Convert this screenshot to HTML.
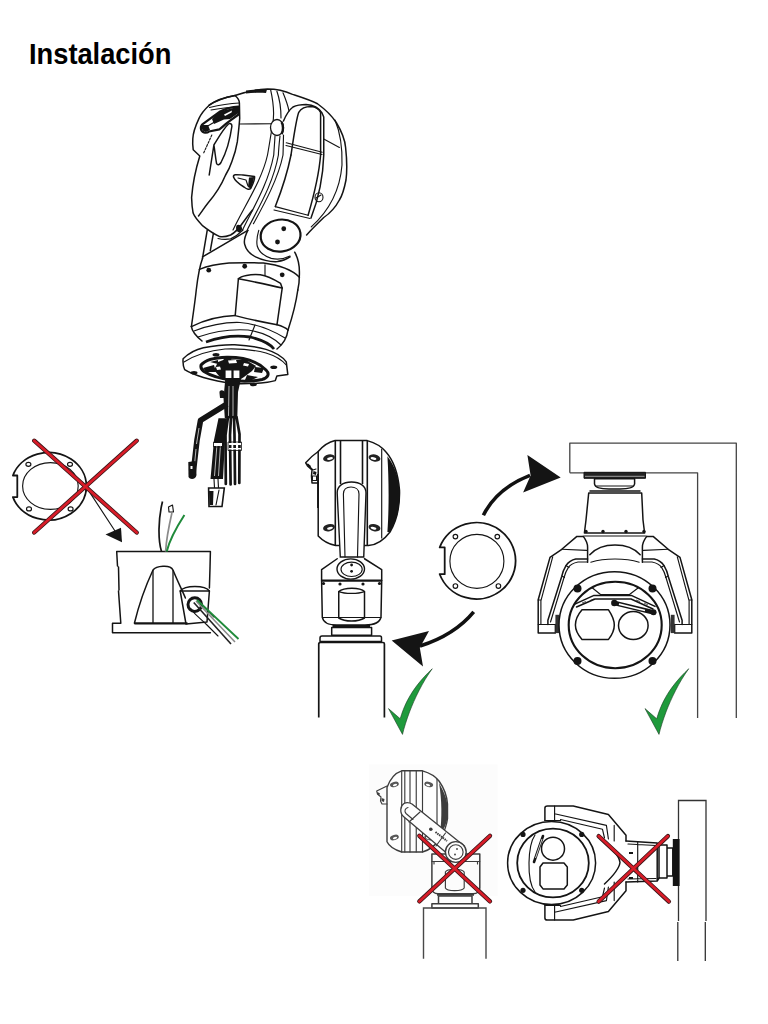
<!DOCTYPE html>
<html><head><meta charset="utf-8">
<style>
html,body{margin:0;padding:0;background:#fff;width:768px;height:1024px;overflow:hidden;}
h1{position:absolute;left:29px;top:39px;margin:0;font:bold 29px "Liberation Sans",sans-serif;color:#000;line-height:30px;transform:scaleX(0.94);transform-origin:0 0;white-space:nowrap;}
svg{position:absolute;left:0;top:0;}
.k{fill:none;stroke:#141414;stroke-width:1.5;stroke-linecap:round;stroke-linejoin:round;}
.t{fill:none;stroke:#141414;stroke-width:1.15;stroke-linecap:round;stroke-linejoin:round;}
.b{fill:#141414;stroke:none;}
.r{fill:none;stroke:#d81c28;stroke-width:2.7;stroke-linecap:round;}
.rd{fill:none;stroke:#3a1618;stroke-width:4.3;stroke-linecap:round;}
.g{fill:#1f9a3c;stroke:#1a3a22;stroke-width:0.6;}
.gr{fill:none;stroke:#3a3a3a;stroke-width:1.1;stroke-linecap:round;stroke-linejoin:round;}
</style></head><body>
<h1>Instalación</h1>
<svg width="768" height="1024" viewBox="0 0 768 1024">
<!-- TOPCAM -->
<g id="topcam">
  <!-- dome outer -->
  <path class="k" d="M209.2,105.2 C216,100 226,97 235,95.5 C246,91.5 257,89.5 267.5,89 C278,89 286,91.5 292.5,94.4 C302,97.5 310,100 317.5,103.75 C326,110 332,116 336.25,122.5 C342,132 345,140 345.6,147.5 C347,160 347,172 346,180 C344,190 342,196 339.4,200 C334,210 329,214 323.75,217.5 C316,225 311,230 306.6,235"/>
  <path class="b" d="M246,90.5 C252,89.5 260,89 267,89.5 L266,93 C258,92.5 252,93 246,93.6 Z"/>
  <!-- face plate outer -->
  <path class="k" d="M235,95.5 C225,97.5 216,100.5 209.2,105.2 C204,110 201,114 199,118.4 C195,127 193,134 192.8,138.75 C192.5,143 192.8,147 193.2,149.7 L199.8,156 C197,165 193,180 191.6,197.5 C191.8,205 192.5,210 193.1,213.1 C195,218 199,222 202.5,225.6 C208,230 214,234 219.7,236.6 C224,237.5 228,236 230.6,235 C236,232 240,227 243,222.5 C247,217 250,213 252.5,210"/>
  <path class="t" d="M218,238.5 C222,239.5 227,239.5 230.6,238.9 C235,237 239,234 243,230"/>
  <!-- face plate inner ellipse (right boundary) -->
  <path class="k" d="M235,95.5 C238,98 239.4,100 239.4,103 L239.7,118.4 C239,128 238,136 237.3,141.9 C236,150 234,156 231.9,161.4 C230,167 228,171 225.6,175 C221,186 214,196 208,203 C204,208 201,213 198.5,216"/>
  <!-- top double band of face plate -->
  <path class="t" d="M209.5,107.5 C220,105 230,103.5 239.4,103"/>
  <path class="t" d="M211,110 C222,108 231,107 239.4,107"/>
  <!-- sunshield slot -->
  <path fill="none" stroke="#141414" stroke-width="2.2" stroke-linejoin="round" d="M203,123.9 C200,126 200,131 204,132.5 C206,133 208,132.5 209,131.5 L219.4,129.4 C224,126 226,123.5 228.75,121.6 L238.5,114.5 L238.5,106.7 C232,107 226,108.5 220.2,111.4 Z"/>
  <path fill="#141414" d="M202,125 C201,129 203,132 206,132 L210,130 L208,125 Z"/>
  <path fill="#141414" d="M216,114 L221,111 L238.5,106.7 L238.5,113 L230,119 L224,119.5 L214,124 L212,119 Z"/>
  <path fill="#fff" d="M224,114.5 L232,110.5 L231.5,112.5 L225,116 Z"/>
  <path class="t" d="M206,127 L218,120"/>
  <!-- tongue / W -->
  <path class="k" d="M209.2,175 L213.9,145 C215,152 215.8,160 216.6,163.5 C217.5,165.5 219.5,165 221,162.5 C226,153 230,140 231.9,126.25 C232,123.5 230,123 228.5,124 C224,128 220,135 213.9,145"/>
  <path class="t" d="M203.75,152.8 L212.3,134" stroke-dasharray="2 1.5"/>
  <!-- mount tab -->
  <path class="k" d="M233.5,177 C233,174 236,174.5 243,175 L254.5,176.5 C255,179 253,184 251,188 C249.5,190 247,189.5 244,187 C239,184 235,181 233.5,177 Z"/>
  <path class="b" d="M249,177.5 L254,177 C254,181 252,186 250.5,188.5 L248,187 Z"/>
  <path class="t" d="M238,178 L246,180 L248,186"/>
  <!-- horizontal line across top panel -->
  <path class="t" d="M239.5,124 L272.2,123.75"/>
  <!-- band strips -->
  <path class="t" d="M270.6,89.7 C274,105 274,118 272.5,125 C270,140 268.5,150 267.5,155 C262,180 245,205 233,230"/>
  <path class="t" d="M276.9,91.25 C280,100 281,110 281,118 M275,136 C274.5,145 274,150 273.75,155 C268,185 252,210 242.5,230"/>
  <path class="t" d="M283,92.8 C286,100 288,106 289,111 M280,136 C279,145 278.5,150 278.4,155 C273,185 257,210 247.2,230"/>
  <path class="t" d="M283.5,135 C283.3,145 283.2,150 283,155 C278,180 262,208 253.4,223.75"/>
  <!-- knob semi -->
  <ellipse cx="277" cy="127.5" rx="6.5" ry="8" fill="#fff" stroke="#141414" stroke-width="1.3"/>
  <path fill="none" stroke="#141414" stroke-width="2.4" d="M281.5,122 C283.5,125 283.5,131 281.5,134"/>
  <!-- arm -->
  <path class="k" d="M283.5,121 C286,115 289,110 293,107 C297,105 302,104.5 306,104.5 C314,105 319,108 322,113 L323.75,117 L323.75,155 C323,180 318,200 311,218"/>
  <path class="k" d="M291,155 C294,135 296,120 298.75,112.3 C301,108.5 306,106.5 311.25,106.5 C316,107 319,109 320.6,112.3 L320.6,155 C319,175 314,195 308.1,215.2"/>
  <path class="k" d="M291,155 C287,175 281,192 275.3,206.6"/>
  <!-- cross band -->
  <path class="t" d="M286.25,142.8 L322.2,152.2 M286,145.5 L322,154.5"/>
  <path class="t" d="M323.75,138.9 L339.4,147.5"/>
  <!-- dome inner line -->
  <path class="t" d="M335,120 C340,132 342.5,148 342,165 C340,190 330,210 311.25,226.9"/>
  <!-- screw oval -->
  <ellipse cx="319" cy="197.2" rx="4" ry="4.5" fill="none" stroke="#141414" stroke-width="1.1"/>
  <path class="t" d="M316,198 L321,195"/>
  <!-- arm bottom band -->
  <path class="t" d="M275.3,206.6 L308.1,215.2 M274,210 L310,218.5"/>
  <!-- neck bolt -->
  <path class="b" d="M236.5,225.5 C238,224 241.5,225 242,228 C242.5,231 240,233 238,232 C236,231 235.5,228 236.5,225.5 Z"/>
  <!-- knob -->
  <ellipse cx="280.6" cy="235.6" rx="20" ry="16" fill="none" stroke="#141414" stroke-width="2.2" transform="rotate(-8 280.6 235.6)"/>
  <circle class="b" cx="283.75" cy="228.75" r="2.4"/><circle class="b" cx="277.5" cy="242" r="2.4"/>
  <path class="k" d="M247.8,230.3 C245,236 244,242 244.7,244.4 C246,250 250,254 255.6,256.9 C262,260 270,262 277.5,261.6 C283,261 287,259 290,256.9"/>
  <path class="t" d="M258.75,230.3 C257,236 256.5,242 257.2,246 C259,252 264,256 271.25,258.4 C278,260 284,259 290,256"/>
  <!-- neck -->
  <path class="k" d="M207.2,230.3 L202.5,258.4 M213.4,233.4 L210.3,250.6"/>
  <path class="k" d="M202.5,256.9 L247.8,230.3"/>
  <path class="k" d="M294.7,252.2 C298,258 299.5,265 299.4,272.5 C299.5,280 299,285 297.8,290"/>
  <!-- body -->
  <path class="k" d="M202.5,258.4 C200,265 198,275 196.25,290 C195,302 193,315 191.4,326.6"/>
  <path class="k" d="M297.8,290 C296,303 292,318 288,330"/>
  <path class="k" d="M199.4,269.4 C208,266 218,264 229,263.1 C240,262.5 252,262.5 263.4,263.1 C278,265 292,270 299.4,277.2"/>
  <circle class="b" cx="208.75" cy="270.2" r="2.4"/><circle class="b" cx="244.7" cy="266.25" r="2.4"/><circle class="b" cx="282.2" cy="274.8" r="2.4"/>
  <path class="t" d="M265,264.7 L265,275.6"/>
  <!-- window -->
  <path class="k" d="M238.4,278.75 C241,276 250,274 260.3,274.8 C268,276 275,280 280.6,283.4 L282.2,288.1 L277,324.7 C262,322 248,319 235.2,315.6 Z"/>
  <path class="k" d="M238.4,278.75 C255,282 270,285 282.2,288.1"/>
  <!-- body bottom -->
  <path class="k" d="M191.4,326.6 C205,320 220,316 235.2,315.6 M277,324.7 C282,326 286,328 288,330"/>
  <path class="k" d="M191.4,326.6 C192,331 196,336 202,341 M288,330 C287,338 282,345 277,349"/>
  <path class="t" d="M194,331 C210,325 225,322 240,322.5 C258,324 272,330 285,338"/>
  <path class="t" d="M198,337 C215,331 232,329 248,330 C262,332 274,338 281,345"/>
  <path class="t" d="M255,325 L249,340"/>
  <path d="M206,342 C220,337 236,335 250,337 C262,340 270,344 274,349" fill="none" stroke="#141414" stroke-width="2.8"/>
  <!-- flange -->
  <path class="k" d="M183.1,358.75 C190,352 198,349 203.4,347.8 C215,345.5 225,344.5 234.7,344.7 C248,345.5 258,347 266,349.4 C276,352.5 282,356 286.25,361.9 L287.8,374.4 L276.9,376 L275.3,380.6 C272,381.5 270,382 267.5,382.2 C258,383.5 246,384 234.7,383.75 C222,382 212,380 203.4,377.5 C195,375 189,372.5 184.7,369.7 C183,366 182.8,362 183.1,358.75 Z"/>
  <path class="t" d="M184,362 C195,355 210,350.5 225,349 C240,348.5 255,350 266,353 C276,356 282,360 286.25,365"/>
  <path d="M201.1,365 C205,360 215,357.5 226.9,357.2 C245,357 258,362 266,370 C270,374 268,378 262,379.5 C252,381.5 242,381.5 234.7,380.6 C222,379 210,375.5 204,371.5 C201.5,369.5 200.5,367 201.1,365 Z" fill="#fff" stroke="#141414" stroke-width="3"/>
  <path fill="#141414" d="M218,362 L226,359 L246,360 L256,366 L252,371 L244,377 L238,381 L226,381 L219,376 L214,370 Z"/>
  <path fill="#141414" d="M203,368 L214,365 L216,372 L206,372 Z M255,367 L264,368 L262,373 L254,372 Z M224,358 L232,357.5 L230,362 L223,362 Z M210,362 L218,360 L218,364 Z M247,375 L258,377 L252,380 L245,380 Z"/>
  <path fill="#fff" d="M228,360.5 L236,360 L237,363 L229,363.5 Z M244,363 L249,364 L248,366.5 L243,365.5 Z M216,367 L220,366.5 L221,369.5 L217,370 Z"/>
  <path fill="#fff" stroke="#141414" stroke-width="1.2" d="M225,370 L232,370 L232,378.5 L225,378.5 Z M233,370 L240,370 L240,378.5 L233,378.5 Z"/>
  <g class="b"><ellipse cx="216" cy="354.8" rx="3.5" ry="1.8"/><ellipse cx="273.75" cy="367.3" rx="3.5" ry="1.8"/><ellipse cx="194" cy="372.8" rx="3.5" ry="1.8"/><ellipse cx="253.4" cy="384.5" rx="3.5" ry="1.8"/></g>
  <!-- cables -->
  <path fill="#141414" d="M225.3,379 L241,379 L238,392 L237.3,418.3 L224.8,418.3 L223.5,398 Z"/>
  <path fill="none" stroke="#fff" stroke-width="0.7" d="M229,386 L228.5,416 M233,386 L233,416"/>
  <path class="b" d="M219.5,393 C219,390 222,389.5 224,391 L224.5,398 L220,398 Z"/>
  <path fill="none" stroke="#141414" stroke-width="5.6" stroke-linejoin="round" d="M227,404 L200.5,420.4 L197,440 L193,475"/>
  <path fill="none" stroke="#fff" stroke-width="0.7" d="M199,428 L196.5,444 M196,449 L194,470"/>
  <path class="b" d="M188.3,462 L195.6,461 L196.5,475 C196,479.5 190,480 188.5,477 Z"/>
  <path fill="#fff" d="M190.5,466 L192.5,466 L192.5,469 L190.5,469 Z"/>
  <path fill="#141414" d="M218.5,418.3 L227,418.3 L225,440 L223,479 L210.5,479 L214,440 Z"/>
  <path fill="none" stroke="#fff" stroke-width="0.7" d="M217,444 L214.5,476 M220.5,444 L218.5,476"/>
  <path fill="none" stroke="#141414" stroke-width="2.7" stroke-linecap="round" d="M228,417 L225.5,435 L225.8,484 M231,417 L230,435 L230.6,484.5 M234,417 L234.5,435 L235,484 M236.5,417 L239.5,434 L239.3,483"/>
  <path fill="#fff" d="M214,443 L222,443 L222,446 L214,446 Z M228.5,443 L241,443 L241,445 L228.5,445 Z M228.5,448 L241,448 L241,449.5 L228.5,449.5 Z"/>
  <path fill="none" stroke="#141414" stroke-width="0.8" d="M213.5,442 L222.5,442 L222.5,447 L213.5,447 Z M228,442 L241.5,442 L241.5,450.5 L228,450.5 Z"/>
  <path class="t" d="M214,479 L214.5,488 M218,479 L218.5,488" stroke="#555"/>
  <path fill="#fff" stroke="#141414" stroke-width="1.6" d="M208.6,488 L224.3,488 L222,506.5 L209,506.5 Z"/>
  <path class="b" d="M209,491 L213.5,491 L213,505 L209.5,505 Z"/>
  <path class="t" d="M219,490 L216,505"/>
</g>
<!-- RING1 -->
<g id="ring1">
  <path fill="none" stroke="#141414" stroke-width="1.8" stroke-linejoin="round" d="M17.3,475.5 L12.9,475.5 A37.75,33.7 0 1 1 12.9,497.1 L17.3,497.1 Z"/>
  <ellipse class="t" cx="50.4" cy="486" rx="27.8" ry="23.45"/>
  <ellipse class="t" cx="28.4" cy="464.3" rx="2.5" ry="2"/><ellipse class="t" cx="70" cy="464.3" rx="2.5" ry="2"/>
  <ellipse class="t" cx="29" cy="508.9" rx="2.5" ry="2"/><ellipse class="t" cx="70.6" cy="508.9" rx="2.5" ry="2"/>
  <path class="t" d="M86,486.6 L115,531"/>
  <path class="b" d="M105.5,534.5 L121,527.7 L122,542.3 Z"/>
  <path class="rd" d="M34.2,440.7 L136.7,532.5 M136.7,440.7 L34.2,532.5"/><path class="r" d="M34.2,440.7 L136.7,532.5 M136.7,440.7 L34.2,532.5"/>
</g>
<!-- BOX -->
<g id="box">
  <path class="k" d="M116.7,551.5 L210.4,551.5 L210,568 L209.4,588 M116.7,551.5 L117.5,566 M118.5,567 L119,590 M118.5,591 L120.8,623.3 L112.5,623.3 L112.5,632.7 L210.4,632.7"/>
  <path fill="none" stroke="#141414" stroke-width="2.2" d="M134.4,623.3 L187.5,623.3"/><path class="k" d="M134.4,623.3 C140,600 146,585 153,570 C156,566 170,564 173,570 C177,580 182,590 185.4,598"/>
  <path fill="none" stroke="#141414" stroke-width="1.3" d="M153,570 L153,623 M173,570 L173,623"/>
  <path class="k" d="M180.2,591 L209.4,591 L207,622 L186,624 Z"/>
  <path class="k" d="M180.2,591 C185,585 205,585 209.4,591"/>
  <circle cx="194.8" cy="604.6" r="6.8" fill="none" stroke="#141414" stroke-width="3"/>
  <path fill="none" stroke="#141414" stroke-width="1.7" d="M162.5,501.5 C158,520 158,540 161.5,551.5"/>
  <path fill="none" stroke="#8a8a8a" stroke-width="1.7" d="M171.9,513 C168,530 166,545 165.6,551.5"/>
  <path class="t" d="M168.5,507 L172.5,505 L173.5,512 L169,512 Z"/>
  <path fill="none" stroke="#1f8a3a" stroke-width="2" d="M184.4,515 C176,528 169,542 166.7,551.5"/>
  <path fill="none" stroke="#222" stroke-width="1.6" d="M193.75,602.5 L231,644"/><path class="t" d="M191,609 C195,615 200,618 207,625 L218,636 M199,602 L214,617"/>
  <path fill="none" stroke="#888" stroke-width="1.5" d="M196,601 L235,642"/>
  <path fill="none" stroke="#1f8a3a" stroke-width="1.8" d="M197,600 L238.5,639"/>
</g>
<!-- MIDCAM -->
<g id="midcam">
  <!-- head -->
  <path class="k" d="M318.2,451.5 C323,446 329,442 335.1,440.6 L367.3,440.6 C376,443 382,447 386,452 C393,460 398,472 399.5,490 C400,508 396,522 390,532 C384,540 376,545 368.4,545.6 L335.6,545.6 C328,544 322,540 318.2,536 Z"/>
  <path fill="none" stroke="#141414" stroke-width="1.6" d="M335.3,441 L335.3,545 M340.5,441 L340.5,484 M362.5,441 L362.5,484 M367.3,441 L367.3,545"/>
  <path class="t" d="M381.7,449 L381.7,538"/>
  <path class="b" d="M387.4,456.3 C395,466 399,478 399.5,492 C400,508 397,520 390,532 L387.4,532 C389,510 389,480 387.4,456.3 Z"/>
  <!-- ovals -->
  <g fill="#222"><ellipse cx="329" cy="458" rx="6" ry="3.6" transform="rotate(-12 329 458)"/><ellipse cx="374.5" cy="458" rx="6" ry="3.6" transform="rotate(12 374.5 458)"/><ellipse cx="329" cy="527.7" rx="6" ry="3.6" transform="rotate(-12 329 527.7)"/><ellipse cx="374.5" cy="527.7" rx="6" ry="3.6" transform="rotate(12 374.5 527.7)"/></g>
  <g fill="#fff"><ellipse cx="330" cy="458.5" rx="3" ry="1.3" transform="rotate(-12 330 458.5)"/><ellipse cx="373.5" cy="458.5" rx="3" ry="1.3" transform="rotate(12 373.5 458.5)"/><ellipse cx="330" cy="528.2" rx="3" ry="1.3" transform="rotate(-12 330 528.2)"/><ellipse cx="373.5" cy="528.2" rx="3" ry="1.3" transform="rotate(12 373.5 528.2)"/></g>
  <!-- clip -->
  <path class="k" d="M318.2,451.5 C313,455 309,459 305.7,462.8 L307.5,466 L312,470 L311.5,476 L312,483 L318,483"/>
  <path class="t" d="M307,464 L313,470 L316,469"/>
  <path class="b" d="M308,463.5 L311,466 L310,468 L307.5,466 Z M313.5,471 L316.5,472 L316,475 L313,474 Z"/>
  <rect x="312.5" y="476" width="4" height="4.5" fill="#fff" stroke="#141414" stroke-width="1"/>
  <path fill="none" stroke="#141414" stroke-width="1.8" d="M318,474 L318,508"/>
  <!-- arm -->
  <path d="M340.3,557 L337.2,493 C337,486 343,482 351.5,482 C360,482 366,486 366,493 L363.75,557 Z" fill="#fff" stroke="#141414" stroke-width="1.4"/>
  <path class="t" d="M345,557 L343.4,494 C343.5,489 347,487 351,487 C355,487 359,489 359,494 L357.5,557"/>
  <!-- shoulder -->
  <path class="k" d="M337.2,558.75 L321.6,569.7 L321.6,580.6 M364.5,558.75 L381.7,569.7 L381.7,580.6"/>
  <ellipse cx="350.75" cy="569" rx="13.75" ry="10.1" fill="#fff" stroke="#141414" stroke-width="1.4"/>
  <ellipse class="t" cx="351.6" cy="569.3" rx="10.6" ry="7.2"/>
  <circle class="b" cx="351.6" cy="565" r="1.4"/><circle class="b" cx="351.6" cy="571.3" r="1.4"/>
  <path fill="none" stroke="#141414" stroke-width="2.2" d="M321.6,580.6 L381.7,580.6"/>
  <g class="b"><circle cx="323.5" cy="583.5" r="1.6"/><circle cx="340" cy="584" r="1.6"/><circle cx="363" cy="584" r="1.6"/><circle cx="379.5" cy="583.5" r="1.6"/></g>
  <!-- body -->
  <path class="k" d="M321.6,580.6 L322.3,617 C323,622 328,625 337,625 L365,625 C374,625 380,622 381,617 L381.7,580.6"/>
  <path class="t" d="M322.3,617.5 L381,617.5"/>
  <path class="k" d="M338.75,591.6 C344,587 360,587 364.5,591.6 L364.5,618 C358,622 345,622 338.75,618 Z"/>
  <path class="t" d="M338.75,591.6 C345,594 358,594 364.5,591.6"/>
  <!-- base -->
  <path fill="none" stroke="#141414" stroke-width="2" d="M332.5,626 L370,626"/>
  <path class="k" d="M331.7,627.5 L371.6,627.5 L371.6,635.3 L331.7,635.3 Z"/>
  <path class="k" d="M322,636 L380,636 C381,636 381.5,637 381.5,638 L381.5,641.6 L320,641.6 L320,638 C320,637 321,636 322,636 Z"/>
  <path fill="none" stroke="#141414" stroke-width="1.7" d="M318.75,717.5 L318.75,644 C318.75,643 319.5,642.5 320.5,642.5 L383,642.5 C384,642.5 384.4,643 384.4,644 L384.4,717.5"/>
</g>
<!-- RING2 -->
<g id="ring2">
  <path fill="none" stroke="#141414" stroke-width="1.8" stroke-linejoin="round" d="M444.7,547.4 L439.7,547.4 A39.2,38.2 0 1 1 439.7,574.2 L444.7,574.2 Z"/>
  <circle class="t" cx="476.9" cy="561.3" r="27"/>
  <circle class="t" cx="455.4" cy="536.6" r="2.3"/><circle class="t" cx="497.3" cy="536.6" r="2.3"/>
  <circle class="t" cx="455.4" cy="586" r="2.3"/><circle class="t" cx="498.4" cy="586" r="2.3"/>
  <path fill="none" stroke="#111" stroke-width="3.6" d="M483.4,515.2 C492,498 508,484 530,475.4"/>
  <path class="b" d="M560.7,477.6 L527.4,455 L530.6,475.4 L523.1,492.6 Z"/>
  <path fill="none" stroke="#111" stroke-width="3.6" d="M473.7,611.8 C462,626 445,638 420,646"/>
  <path class="b" d="M391.7,640.4 L429,631 L419.8,647.7 L423,666.5 Z"/>
</g>
<!-- CEILCAM -->
<g id="ceilcam">
  <path fill="none" stroke="#444" stroke-width="1.3" stroke-linejoin="round" d="M569.8,472.8 L569.8,443.1 L736.3,443.1 L736.3,718 M569.8,472.8 L697.6,472.8 L697.6,718"/>
  <path d="M584,472.3 L645.5,472.3 L645.5,478.3 L584,478.3 Z" fill="#222" stroke="#141414" stroke-width="1"/>
  <path fill="none" stroke="#aaa" stroke-width="0.9" d="M585,476.3 L644.5,476.3"/>
  <path class="k" d="M594.5,478.7 L634.6,478.7 L634.6,484 C634,488 628,489 620,489 L609,489 C601,489 595,488 594.5,484 Z"/>
  <path class="t" d="M596,486 L633,486"/>
  <path class="k" d="M590,491 L640,491 M588.7,493 L641.7,493 L643,520 L644.6,533 L584.4,533 L586,520 Z"/>
  <g class="b"><circle cx="586" cy="531.5" r="1.7"/><circle cx="603" cy="531.5" r="1.7"/><circle cx="626" cy="531.5" r="1.7"/><circle cx="644" cy="531.5" r="1.7"/></g>
  <!-- yoke -->
  <g id="yokeL">
  <path class="k" d="M583.3,536.4 L576.9,536.4 L561.8,549.3 L550,557.4 L538.2,599.8 L538.2,633.1 L555.4,633.1 L555.4,624.5"/>
  <path class="t" d="M552.7,556.8 L540.9,600.9 L540.9,624.5 M538.2,624.5 L555.4,624.5 M538.2,600 L541,600"/>
  <path class="t" d="M561.8,549.3 L586.5,550.4"/>
  <path class="k" d="M583.3,536.4 C586,540 587.6,544 587.6,547.2 L587.6,562.2"/>
  <path class="k" d="M587.6,559 L575.8,559 C571,560 568,562.5 566.1,565.4 C564,569 562.5,572.5 561.8,576.2 L547.9,620.2 L547.9,624.5"/>
  <path class="t" d="M587.6,562 L578,562 C573,563 570,565 568.3,567.6 C566,571 565,574 564.2,577 L550.5,622"/>
  <path class="t" d="M566,565.5 L569,567.5 M562,576 L564.5,577.5"/>
  <path fill="#333" d="M555.4,614.8 L559.2,614.8 L559.2,633.1 L555.4,633.1 Z"/>
  </g>
  <use href="#yokeL" transform="matrix(-1,0,0,1,1230,0)"/>
  <path class="t" d="M584.4,536 L645.6,536"/>
  <!-- dome -->
  <path class="k" d="M589.8,554.7 C596,548 605,545 615,545 C625,545 634,548 640.2,554.7"/>
  <path class="t" d="M590.8,562.2 C598,560 606,559 615,559 C624,559 632,560 639.2,562.2"/>
  <!-- head -->
  <ellipse cx="614.5" cy="625" rx="55.5" ry="53.3" fill="#fff" stroke="#141414" stroke-width="1.5"/>
  <ellipse cx="615.2" cy="625" rx="46.5" ry="43.2" fill="none" stroke="#141414" stroke-width="2.1"/>
    <path class="k" d="M582,609.8 L608.5,609.8 C612,615 614.3,620 614.3,625 C614.3,630 612,635 608.5,639.4 L582,639.4 C578,635 575.4,630 575.4,625 C575.4,620 578,614.5 582,609.8 Z"/>
  <ellipse class="k" cx="633.3" cy="625.5" rx="14.8" ry="14"/>
  <g class="b"><circle cx="577.5" cy="588.5" r="4"/><circle cx="652.5" cy="588.5" r="4"/><circle cx="577.5" cy="661" r="4"/><circle cx="652.5" cy="661" r="4"/></g>
  <path class="k" d="M575.4,603.9 L594,595.4 L631.25,595.4 L655,606.4 M576.5,607 L595,599 L631,599 L653,609"/>
  <path fill="none" stroke="#141414" stroke-width="0.7" d="M582,603 L586,601.5 M590,600.5 L594,599 M636,600 L640,601.5 M644,603 L648,605"/>
  <path class="t" d="M592.5,588 L600.5,594.5 L629.5,594.5 L638,588"/>
  <path fill="none" stroke="#141414" stroke-width="4.6" stroke-linecap="round" d="M614.5,603 L654,612.5"/>
  <path fill="none" stroke="#fff" stroke-width="1.8" d="M619,604.2 L645,610.5"/>
  <circle class="b" cx="614.3" cy="603" r="3.2"/><circle class="b" cx="653.5" cy="612.3" r="3"/>
</g>
<!-- CHECKS -->
<path class="g" d="M388.5,708.6 L400.2,718.75 C403.5,708 409.5,690 432.25,668.75 C422.5,682 414.5,699 409.5,712 C406.5,720 404,728 402.5,734.4 Z"/>
<path class="g" d="M645,708.6 L656.7,718.75 C660,708 666,690 688.75,668.75 C679,682 671,699 666,712 C663,720 660.5,728 659,734.4 Z"/>
<!-- BOTCAM1 -->
<rect x="369" y="764.5" width="128.5" height="131.5" fill="#fcfcfc"/>
<g id="botcam1" opacity="0.82">
  <!-- head -->
  <path d="M387,787.5 C390,779 395,773 401.7,770.8 L422.5,770.8 C430,773 436,777 439,781 C444,788 447,797 447.5,804 L447.5,818.75 C446.5,826 444,832 441.25,837.5 C436,845 430,850 422.5,852 L401.7,852 C394,849.5 389,846 387,841.7 Z" fill="#fff" stroke="#141414" stroke-width="1.4"/>
  <path class="t" d="M401.7,771 L401.7,852 M404.8,771 L404.8,852 M410,771 L410,852 M416.25,771 L416.25,852 M422.5,771 L422.5,852 M437,779 L437,840"/>
  <path class="b" d="M439,783 C443,790 447,798 447.5,806 L447.5,818 C446.5,824 444,829 440,834 C442,818 442,800 439,783 Z"/>
  <g fill="#333"><ellipse cx="394.4" cy="784.4" rx="4.5" ry="2.6" transform="rotate(-15 394.4 784.4)"/><ellipse cx="428.75" cy="784.4" rx="4.5" ry="2.6" transform="rotate(15 428.75 784.4)"/><ellipse cx="394.4" cy="837.5" rx="4.5" ry="2.6" transform="rotate(-15 394.4 837.5)"/><ellipse cx="428.75" cy="837.5" rx="4.5" ry="2.6" transform="rotate(15 428.75 837.5)"/></g>
  <g fill="#fff"><ellipse cx="395" cy="785" rx="2.2" ry="1" transform="rotate(-15 395 785)"/><ellipse cx="428" cy="785" rx="2.2" ry="1" transform="rotate(15 428 785)"/><ellipse cx="395" cy="838" rx="2.2" ry="1" transform="rotate(-15 395 838)"/><ellipse cx="428" cy="838" rx="2.2" ry="1" transform="rotate(15 428 838)"/></g>
  <path class="t" d="M387,786 L376.7,791 L377.5,794 L381,797 L380.5,801 L382,804 L387,804"/>
  <path class="b" d="M377.5,792 L380,793.5 L379,795.5 L377,794 Z M381.5,798 L384.5,799 L384,802 L381.5,801 Z"/>
  <!-- body -->
  <path class="k" d="M431.9,854 L479.8,854 L479.8,888 C479.8,891.5 477,893.75 473,893.75 L438,893.75 C434.5,893.75 431.9,891.5 431.9,888 Z"/>
  <path class="t" d="M431.9,861.5 L479.8,861.5 M434,861.5 L434,864 M477.5,861.5 L477.5,864"/>
  <path class="t" d="M445.4,872 C447,868.5 462,868.5 464.2,872 L464.2,888 C462,891.5 447,891.5 445.4,888 Z"/>
  <!-- arm -->
  <path d="M412,804 L464,845.8 L445.4,852 L403.75,816.7 C399.5,813 400,806 404,803.5 C406.5,802 409.5,802.5 412,804 Z" fill="#fff" stroke="#141414" stroke-width="1.3"/>
  <path class="t" d="M408,807.5 C405,808 404,811.5 406,813.5 L413,819.5 M420,812 L409,822 M445.5,833 L436,846"/>
  <circle class="b" cx="430.8" cy="829.2" r="1.8"/>
  <path fill="none" stroke="#141414" stroke-width="2" stroke-dasharray="1.5 0.8" d="M435.5,832 L447,841"/>
  <circle cx="455.8" cy="852" r="10.4" fill="#fff" stroke="#141414" stroke-width="1.4"/>
  <circle class="t" cx="455.8" cy="852" r="7.3"/>
  <circle class="b" cx="457" cy="849" r="0.9"/><circle class="b" cx="455" cy="854.5" r="0.9"/>
  <!-- base -->
  <path fill="none" stroke="#141414" stroke-width="2" d="M437,894.7 L474,894.7"/>
  <path class="k" d="M438.5,896 L472,896 L472,903.8 L438.5,903.8 Z M431.9,903.8 L478.3,903.8 L478.3,907.9 L431.9,907.9 Z"/>
  <path fill="none" stroke="#222" stroke-width="1.4" d="M423.5,958.8 L423.5,908 L486,908 L486,958.8"/>
</g>
<path class="rd" d="M419.3,835.8 L490,901.4 M490,835.8 L419.3,901.4"/><path class="r" d="M419.3,835.8 L490,901.4 M490,835.8 L419.3,901.4"/>
<!-- BOTCAM2 -->
<g id="botcam2">
  <path fill="none" stroke="#333" stroke-width="1.3" d="M678.5,921 L678.5,800.5 L706,800.5 L706,921 M677.8,922 L677.8,961 M705.3,922 L705.3,961"/>
  <path class="b" d="M672.8,839 L679.6,839 L679.6,886 L672.8,886 Z"/>
  <path class="k" d="M667,848 L672.8,848 L672.8,876 L667,876 Z M659,845 L667,845 L667,878 L659,878 Z"/>
  <!-- neck -->
  <path class="k" d="M626,841 L657.2,843 L659,845 M626,882 L657.2,881 L659,878 M657.2,843 L657.2,881"/>
  <path class="t" d="M628,844 L656,845.5 M628,879 L656,878.5 M637.7,842 L637.7,882"/>
  <path class="b" d="M629,852 L633,852 L633,854 L629,854 Z M629,877 L633,877 L633,879 L629,879 Z"/>
  <path class="k" d="M604.5,843 C612,849 619,855 620,862.5 C619,870 612,877 604.5,884"/>
  <!-- yoke top -->
  <path class="k" d="M544.9,820.5 L544.9,808 C544.9,806.5 546,805.9 547.5,805.9 L573.2,805.9 L608.4,814.6 L626,835.2 L626,841"/>
  <path class="t" d="M554.6,806 L554.6,820.5 M544.9,820.5 L560.5,820.5 M554.6,813.7 L606.4,825.4 L608.4,839 M560.5,819.5 L602.5,829.3 L604.5,838 M614.2,825.4 L614.2,841"/>
  <!-- yoke bottom -->
  <path class="k" d="M544.9,905.5 L544.9,918 C544.9,919.5 546,920.1 547.5,920.1 L573.2,920.1 L608.4,911.4 L626,890.8 L626,882"/>
  <path class="t" d="M554.6,905.5 L554.6,920 M544.9,905.5 L560.5,905.5 M554.6,912.3 L606.4,900.6 L608.4,887 M560.5,906.5 L602.5,896.7 L604.5,888 M614.2,900.6 L614.2,882"/>
  <!-- head -->
  <ellipse cx="551.6" cy="863" rx="44" ry="41.5" fill="#fff" stroke="#141414" stroke-width="1.5"/>
  <ellipse cx="553" cy="863" rx="35.8" ry="34.4" fill="none" stroke="#141414" stroke-width="1.8"/>
  <path class="t" d="M535,835 C528,845 526,880 535,892"/>
  <circle class="k" cx="553" cy="848.7" r="11.5"/>
  <path class="k" d="M543,863 L564,863 L567.3,867 L567.3,885 L564,888.9 L543,888.9 L540,885 L540,867 Z"/>
  <g class="b"><circle cx="523" cy="834.4" r="2.6"/><circle cx="581.7" cy="834.4" r="2.6"/><circle cx="523" cy="890.3" r="2.6"/><circle cx="581.7" cy="890.3" r="2.6"/></g>
  <path fill="none" stroke="#141414" stroke-width="2.6" stroke-linecap="round" d="M534,862 L543,836"/>
  <path fill="none" stroke="#fff" stroke-width="0.8" d="M535.5,858 L542,839"/>
</g>
<path class="rd" d="M598.6,836.1 L668.9,901.6 M667.9,836.1 L598.6,901.6"/><path class="r" d="M598.6,836.1 L668.9,901.6 M667.9,836.1 L598.6,901.6"/>
</svg>
</body></html>
